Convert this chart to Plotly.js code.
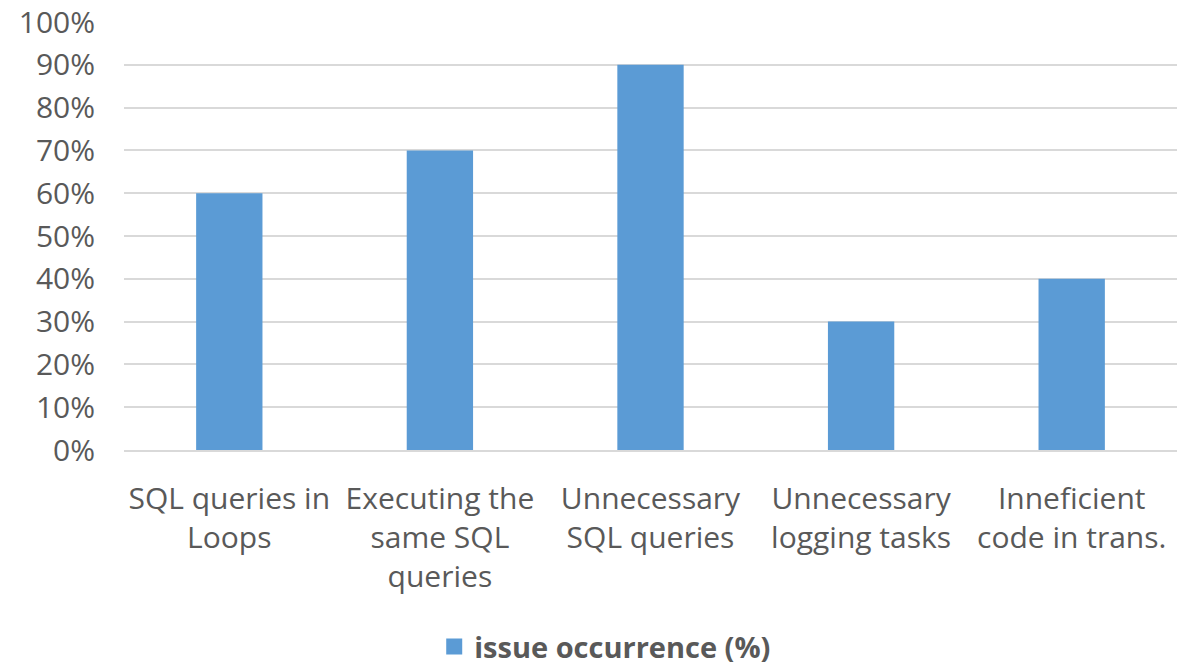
<!DOCTYPE html>
<html>
<head>
<meta charset="utf-8">
<script src="https://cdn.plot.ly/plotly-3.0.1.min.js"></script>
<style>html,body{margin:0;padding:0;background:#fff;}#chart{width:1188px;height:667px;}</style>
</head>
<body>
<div id="chart"></div>
<script>
const categories = ["SQL queries in<br>Loops", "Executing the<br>same SQL<br>queries", "Unnecessary<br>SQL queries", "Unnecessary<br>logging tasks", "Inneficient<br>code in trans."];
const occurrence = [0.60, 0.70, 0.90, 0.30, 0.40];
const seriesName = "issue occurrence (%)";
const yTicks = [0, 0.1, 0.2, 0.3, 0.4, 0.5, 0.6, 0.7, 0.8, 0.9, 1.0];

const fontFamily = "'Open Sans', 'Noto Sans', sans-serif";
const barColor = "#5B9BD5";
const data = [{
  type: "bar",
  x: categories,
  y: occurrence,
  name: seriesName,
  marker: {color: barColor},
  width: 0.315,
  showlegend: false,
  hoverinfo: "skip"
}, {
  type: "scatter", mode: "markers",
  x: [null], y: [null],
  name: seriesName,
  marker: {color: barColor, symbol: "square", size: 20},
  showlegend: true,
  hoverinfo: "skip"
}];
const layout = {
  width: 1188, height: 667,
  margin: {l: 124, r: 11, t: 22, b: 217, autoexpand: false},
  paper_bgcolor: "#fff", plot_bgcolor: "#fff",
  font: {family: fontFamily, color: "#595959", size: 30},
  showlegend: true,
  legend: {
    orientation: "h", x: 0.457, xanchor: "center", y: -0.40, yanchor: "top",
    font: {family: fontFamily, size: 29, color: "#595959", weight: "bold"},
    itemsizing: "trace", itemwidth: 30
  },
  xaxis: {
    type: "category", showgrid: false, showline: true, linecolor: "#d9d9d9", linewidth: 2,
    ticks: "", tickfont: {size: 30, color: "#595959"}, ticklabelstandoff: 21, tickangle: 0,
    automargin: false
  },
  yaxis: {
    range: [0, 1.0], tickvals: yTicks, tickformat: ".0%", showgrid: true, gridcolor: "#d9d9d9", gridwidth: 2,
    zeroline: false, showline: false, ticks: "", tickfont: {size: 30, color: "#595959"}, ticklabelstandoff: 28,
    automargin: false
  },
  bargap: 0.685
};
Plotly.newPlot("chart", data, layout, {displayModeBar: false, staticPlot: true});
</script>
</body>
</html>
